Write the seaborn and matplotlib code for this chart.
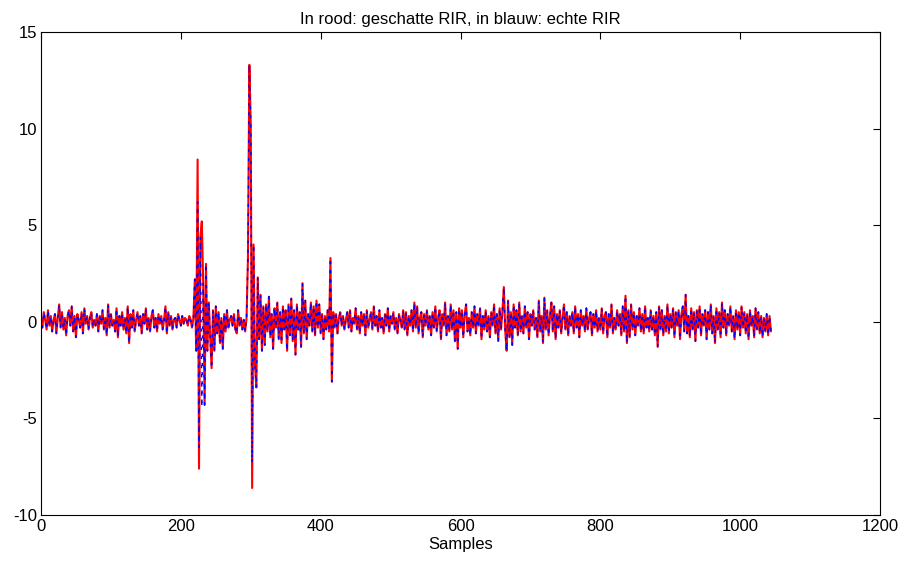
import numpy as np
import pandas as pd
import matplotlib
matplotlib.use("Agg")
import matplotlib.pyplot as plt
import seaborn as sns

# True RIR (blue), sampled every 2 samples: 0, 2, ..., 1044
step = 2
rir_true = [
    0.2,-0.3,0.5,0.1,-0.4,0.6,-0.2,0.3,-0.5,0.1,0.4,-0.6,0.2,0.9,-0.3,0.5,-0.4,0.2,-0.7,0.3,
    0.6,-0.2,0.8,-0.5,0.3,-0.8,0.4,0.1,-0.3,0.5,-0.6,0.7,-0.1,0.3,-0.4,0.2,0.5,-0.3,0.1,-0.2,
    0.4,-0.5,0.3,-0.1,0.6,-0.4,0.2,-0.7,0.9,-0.3,0.4,-0.2,0.1,-0.5,0.7,-0.8,0.3,-0.2,0.5,-0.4,
    0.2,-0.6,0.8,-1.1,0.4,-0.3,0.6,-0.5,0.1,0.5,-0.2,0.3,-0.6,0.4,-0.1,0.7,-0.4,0.2,-0.5,0.3,
    0.6,-0.3,0.2,-0.5,0.4,-0.1,0.3,-0.4,0.1,0.8,-0.6,0.5,-0.2,0.3,-0.4,0.1,0.2,-0.3,0.4,0.1,
    -0.2,0.3,-0.1,0.2,0.1,-0.2,0.3,0.1,-0.3,0.2,2.2,-1.5,6.2,-6.5,4.4,-4.4,2.0,-4.3,3.0,-1.5,
    1.0,-0.8,-2.4,0.6,-1.5,0.8,-0.6,0.5,-1.1,0.2,-1.4,0.4,-0.5,0.6,-0.3,0.1,0.3,-0.2,0.4,-0.4,
    -0.6,0.6,-0.2,0.2,-0.4,0.1,-0.5,0.2,3.3,13.3,10.2,-7.3,4.0,-2.2,-3.4,2.3,-0.9,1.4,-1.5,0.8,
    -1.2,0.9,-0.5,1.3,-0.8,0.4,-1.4,0.7,-0.3,1.0,-0.9,0.5,-1.1,0.8,-0.4,0.6,-1.5,0.9,-0.7,1.2,
    -1.0,0.6,-1.7,0.9,-0.4,0.5,-1.3,2.0,-0.6,1.1,-0.9,0.4,-0.2,1.0,-0.5,0.8,-0.7,1.1,-0.3,0.9,
    -0.6,0.4,-0.9,0.3,-0.4,0.6,-0.5,3.3,-3.1,0.5,-0.3,0.4,-0.6,0.2,0.5,-0.2,0.3,-0.4,0.1,0.5,
    -0.3,0.6,-0.5,0.2,-0.1,0.7,-0.4,0.3,-0.6,0.5,-0.2,0.4,-0.7,0.6,-0.3,0.1,0.5,-0.4,0.8,-0.2,
    0.3,-0.5,0.6,-0.3,0.2,-0.6,0.4,-0.2,0.7,-0.5,0.3,-0.1,0.5,-0.4,0.2,-0.6,0.4,0.1,-0.3,0.6,
    -0.4,0.5,-0.7,0.3,-0.2,0.6,-0.5,1.0,-0.3,0.8,-0.6,0.2,0.5,-0.8,0.4,-0.2,0.6,-0.4,0.3,-0.7,
    0.5,-0.3,0.8,-0.5,0.2,0.6,-0.9,0.4,-0.2,1.0,-0.7,0.3,-0.5,0.9,-0.4,0.6,-1.0,0.5,-1.4,0.7,
    -0.3,0.6,-0.8,0.4,0.9,-0.5,0.2,-0.7,0.5,-0.3,0.8,-0.6,0.4,-0.2,0.7,-0.9,0.3,-0.4,0.6,-0.5,
    0.3,-0.8,0.5,-0.2,0.9,-0.6,0.4,-1.0,0.7,-0.4,0.6,1.8,-0.5,-1.5,1.1,-0.8,0.5,-1.2,0.9,-0.3,
    0.6,-0.7,1.0,-0.5,0.3,-0.6,0.8,-0.3,0.5,-0.9,0.4,-0.2,0.6,-0.4,0.2,-0.8,1.1,-0.5,0.3,-1.1,
    1.25,-0.4,0.6,-0.7,0.3,1.0,-0.5,0.8,-0.9,0.4,-0.3,0.6,-0.6,0.2,0.9,-0.4,0.5,-0.7,0.3,-0.2,
    0.5,-0.6,0.8,-0.3,0.4,-0.8,0.6,-0.2,0.3,-0.5,0.7,-0.4,0.2,0.5,-0.7,0.4,-0.3,0.6,-0.5,0.2,
    -0.4,0.7,-0.6,0.3,0.5,-0.8,0.4,-0.3,0.9,-0.6,0.2,-0.4,0.6,-0.2,0.4,-0.7,0.8,-0.5,1.35,-1.1,
    0.6,-0.8,0.9,-0.4,0.5,-0.7,0.3,-0.2,0.7,-0.5,0.4,-0.6,0.8,-0.3,0.2,-0.5,0.6,-0.4,0.3,-0.7,
    0.5,-1.3,0.8,-0.4,0.6,-0.7,0.3,-0.5,0.9,-0.6,0.4,-0.3,0.7,-0.8,0.5,-0.2,0.6,-0.9,0.4,0.8,
    -0.5,1.4,-0.6,0.3,-0.8,0.7,-0.4,0.5,-1.0,0.6,-0.3,0.8,-0.7,0.4,-0.2,0.6,-0.9,0.5,-0.4,0.9,
    -0.6,0.3,-1.1,0.7,-0.4,0.5,-0.8,1.0,-0.3,0.6,-0.7,0.4,-0.2,0.8,-0.5,0.3,-0.9,0.6,-0.4,0.5,
    -0.7,0.8,-0.3,0.5,-0.6,0.4,-0.9,0.6,-0.2,0.3,-0.8,0.7,-0.4,0.5,-0.6,0.3,-0.8,0.2,-0.5,0.4,
    -0.7,0.3,-0.5,
]

# Estimated RIR (red): equal to the true RIR except at these samples
est_diff_samples = [224, 226, 230, 302]
est_diff_values = [8.4, -7.6, 5.2, -8.6]

samples = np.arange(len(rir_true)) * step
rir_est = list(rir_true)
for s, v in zip(est_diff_samples, est_diff_values):
    rir_est[s // step] = v

title = "In rood: geschatte RIR, in blauw: echte RIR"
xlabel = "Samples"
xticks = [0, 200, 400, 600, 800, 1000, 1200]
yticks = [-10, -5, 0, 5, 10, 15]

df = pd.DataFrame({"sample": samples, "est": rir_est, "true": rir_true})

sns.set_style("white")
plt.rcParams["font.family"] = ["Liberation Sans Narrow", "Liberation Sans", "DejaVu Sans"]
plt.rcParams["text.color"] = "black"
plt.rcParams["axes.labelcolor"] = "black"

fig = plt.figure(figsize=(9.21, 5.70), dpi=100)
ax = fig.add_axes([41 / 921, 1 - 515 / 570, (880 - 41) / 921, (515 - 32) / 570])

sns.lineplot(data=df, x="sample", y="est", ax=ax, color="#ff0000",
             linewidth=1.5, estimator=None, sort=False)
sns.lineplot(data=df, x="sample", y="true", ax=ax, color="#0000ff",
             linewidth=1.1, estimator=None, sort=False, linestyle=(0, (2.0, 4.0)))

ax.set_xlim(0, 1200)
ax.set_ylim(-10, 15)
ax.set_xticks(xticks)
ax.set_yticks(yticks)
ax.set_xticklabels([str(t) for t in xticks])
ax.set_yticklabels([str(t) for t in yticks])
ax.tick_params(direction="in", top=True, right=True, length=5, width=0.8,
               labelsize=12, colors="black", pad=3)
for sp in ax.spines.values():
    sp.set_visible(True)
    sp.set_color("black")
    sp.set_linewidth(0.8)
ax.set_title(title, fontsize=12, pad=6, color="black")
ax.set_xlabel(xlabel, fontsize=12, labelpad=2, color="black")
ax.set_ylabel("")

fig.savefig("out.png", dpi=100, facecolor="white")
